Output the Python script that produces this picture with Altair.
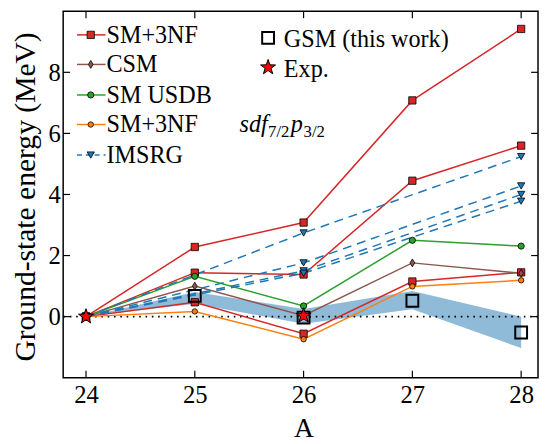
import math
import altair as alt
import pandas as pd

# ---------------- data ----------------
A = [24, 25, 26, 27, 28]
SM3NF_1 = [0.0, 2.28, 3.08, 7.08, 9.42]
SM3NF_2 = [0.0, 1.44, 1.38, 4.45, 5.60]
SM3NF_3 = [0.0, 0.47, -0.56, 1.15, 1.45]
CSM = [0.0, 1.00, 0.03, 1.76, 1.42]
USDB = [0.0, 1.32, 0.35, 2.50, 2.31]
SM3NF_SDF = [0.0, 0.17, -0.74, 0.99, 1.19]

IMSRG_A = [24, 26, 28]
IMSRG_1 = [0.0, 2.74, 5.24]
IMSRG_2 = [0.0, 1.76, 4.28]
IMSRG_3 = [0.0, 1.50, 4.00]
IMSRG_4 = [0.0, 1.42, 3.78]

GSM_A = [25, 26, 27, 28]
GSM = [0.68, -0.03, 0.52, -0.52]
BAND_LO = [0.0, 0.42, -0.23, 0.24, -1.03]
BAND_HI = [0.0, 0.81, 0.25, 0.84, 0.00]

EXP_A = [24, 26]
EXP = [0.0, 0.03]

X_TICKS = [24, 25, 26, 27, 28]
Y_TICKS = [0, 2, 4, 6, 8]

# ---------------- styles ----------------
FONT = "Liberation Serif"
RED, BROWN, GREEN, ORANGE, BLUE = "#d62728", "#8c564b", "#2ca02c", "#ff7f0e", "#1f77b4"
W, H = 482, 372
LEG_FS = 24.5

pts = []
for i in range(10):
    r = 1.0 if i % 2 == 0 else 0.4
    ang = math.radians(-90 + 36 * i)
    pts.append(f"{r*math.cos(ang):.3f},{r*math.sin(ang):.3f}")
STAR = "M" + "L".join(pts) + "Z"
THIN_DIAMOND = "M0,-1L0.6,0L0,1L-0.6,0Z"

xscale = alt.Scale(domain=[23.79, 28.155], nice=False, zero=False)
yscale = alt.Scale(domain=[-2, 10], nice=False, zero=False)
xaxis = alt.Axis(values=X_TICKS, format="d", title="A", ticks=False, domain=False, grid=False,
                 labelFont=FONT, labelFontSize=25, labelColor="black", labelPadding=5, labelFlush=False,
                 titleFont=FONT, titleFontSize=28, titleFontWeight="normal", titleColor="black",
                 titleX=244, titleY=60, titleBaseline="alphabetic", titleAlign="center")
yaxis = alt.Axis(values=Y_TICKS, format="d", title="Ground-state energy (MeV)", ticks=False, domain=False,
                 grid=False, labelFont=FONT, labelFontSize=25, labelColor="black", labelPadding=3,
                 labelFlush=False,
                 titleFont=FONT, titleFontSize=30, titleFontWeight="normal", titleColor="black",
                 titleAngle=270, titleX=-29, titleY=188, titleBaseline="alphabetic", titleAlign="center")


def X(field="A"):
    return alt.X(f"{field}:Q", scale=xscale, axis=xaxis)


def Y(field="E"):
    return alt.Y(f"{field}:Q", scale=yscale, axis=yaxis)


def line_layer(xs, ys, color, dash=None):
    kw = dict(color=color, strokeWidth=1.5)
    if dash:
        kw["strokeDash"] = dash
    return alt.Chart(pd.DataFrame({"A": xs, "E": ys})).mark_line(**kw).encode(x=X(), y=Y())


def point_layer(xs, ys, shape, fill, size, sw=0.8):
    return alt.Chart(pd.DataFrame({"A": xs, "E": ys})).mark_point(
        shape=shape, filled=True, fill=fill, stroke="black", strokeWidth=sw, size=size, opacity=1
    ).encode(x=X(), y=Y())


layers = []
# uncertainty band
layers.append(
    alt.Chart(pd.DataFrame({"A": A, "lo": BAND_LO, "hi": BAND_HI}))
    .mark_area(color=BLUE, opacity=0.5)
    .encode(x=X(), y=Y("lo"), y2="hi:Q")
)
# zero line
layers.append(
    alt.Chart(pd.DataFrame({"z": [0]})).mark_rule(color="black", strokeWidth=1.6, strokeDash=[1.6, 4.8])
    .encode(y=Y("z"))
)

series = [
    (A, SM3NF_1, RED, None, "square", 55),
    (A, SM3NF_2, RED, None, "square", 55),
    (A, SM3NF_3, RED, None, "square", 55),
    (A, CSM, BROWN, None, THIN_DIAMOND, 64),
    (A, USDB, GREEN, None, "circle", 40),
    (A, SM3NF_SDF, ORANGE, None, "circle", 30),
    (IMSRG_A, IMSRG_1, BLUE, [9, 6], "triangle-down", 55),
    (IMSRG_A, IMSRG_2, BLUE, [9, 6], "triangle-down", 55),
    (IMSRG_A, IMSRG_3, BLUE, [9, 6], "triangle-down", 55),
    (IMSRG_A, IMSRG_4, BLUE, [9, 6], "triangle-down", 55),
]
for xs, ys, c, d, shp, sz in series:
    layers.append(line_layer(xs, ys, c, d))
for xs, ys, c, d, shp, sz in series:
    layers.append(point_layer(xs, ys, shp, c, sz))

# GSM open squares
layers.append(
    alt.Chart(pd.DataFrame({"A": GSM_A, "E": GSM}))
    .mark_point(shape="square", color="black", strokeWidth=2, size=144, opacity=1)
    .encode(x=X(), y=Y())
)
# experiment stars
layers.append(point_layer(EXP_A, EXP, STAR, "#ff0000", 256, sw=1.0))

# frame ticks (inward)
xt = pd.DataFrame({"t": X_TICKS})
yt = pd.DataFrame({"t": Y_TICKS})
layers.append(alt.Chart(xt).mark_rule(color="black", strokeWidth=1.2)
              .encode(x=X("t"), y=alt.value(H - 7), y2=alt.value(H)))
layers.append(alt.Chart(xt).mark_rule(color="black", strokeWidth=1.2)
              .encode(x=X("t"), y=alt.value(0), y2=alt.value(7)))
layers.append(alt.Chart(yt).mark_rule(color="black", strokeWidth=1.2)
              .encode(y=Y("t"), x=alt.value(0), x2=alt.value(7)))
layers.append(alt.Chart(yt).mark_rule(color="black", strokeWidth=1.2)
              .encode(y=Y("t"), x=alt.value(W - 7), x2=alt.value(W)))

# ---------------- manual legend ----------------
dummy = pd.DataFrame({"k": [0]})


def leg_line(y, color, dash=None):
    kw = dict(color=color, strokeWidth=1.5)
    if dash:
        kw["strokeDash"] = dash
    return alt.Chart(dummy).mark_rule(**kw).encode(x=alt.value(14), x2=alt.value(43), y=alt.value(y))


def leg_point(x, y, shape, fill, size, sw=0.8, filled=True):
    if filled:
        m = alt.Chart(dummy).mark_point(shape=shape, filled=True, fill=fill, stroke="black",
                                        strokeWidth=sw, size=size, opacity=1)
    else:
        m = alt.Chart(dummy).mark_point(shape=shape, color="black", strokeWidth=sw, size=size, opacity=1)
    return m.encode(x=alt.value(x), y=alt.value(y))


def leg_text(x, y, txt, size=LEG_FS, style="normal"):
    return alt.Chart(dummy).mark_text(text=txt, align="left", baseline="alphabetic", font=FONT,
                                      fontSize=size, fontStyle=style, color="black").encode(
        x=alt.value(x), y=alt.value(y))


legend_rows = [
    (24, RED, None, "square", 55, "SM+3NF"),
    (54, BROWN, None, THIN_DIAMOND, 64, "CSM"),
    (85, GREEN, None, "circle", 40, "SM USDB"),
    (115, ORANGE, None, "circle", 30, "SM+3NF"),
    (146, BLUE, [5, 4], "triangle-down", 55, "IMSRG"),
]
for y, c, d, shp, sz, txt in legend_rows:
    layers.append(leg_line(y, c, d))
    layers.append(leg_point(28, y, shp, c, sz))
    layers.append(leg_text(44, y + 8, txt))

# subscripted part of the orange label: sdf_{7/2} p_{3/2}
layers.append(leg_text(179, 123, "sdf", style="italic"))
layers.append(leg_text(208, 128, "7/2", size=17))
layers.append(leg_text(231, 123, "p", style="italic"))
layers.append(leg_text(244, 128, "3/2", size=17))

# right legend
layers.append(leg_point(208, 27, "square", None, 144, sw=2, filled=False))
layers.append(leg_text(224, 36, "GSM (this work)"))
layers.append(leg_point(208, 57, STAR, "#ff0000", 256, sw=1.0))
layers.append(leg_text(224, 67, "Exp."))

chart = (
    alt.layer(*layers)
    .properties(width=W, height=H, padding={"left": 56, "top": 0, "right": 1, "bottom": 64},
                autosize=alt.AutoSizeParams(type="none"))
    .configure_view(stroke="black", strokeWidth=1.5)
)

chart.save("out.html", embed_options={"renderer": "svg", "actions": False})
